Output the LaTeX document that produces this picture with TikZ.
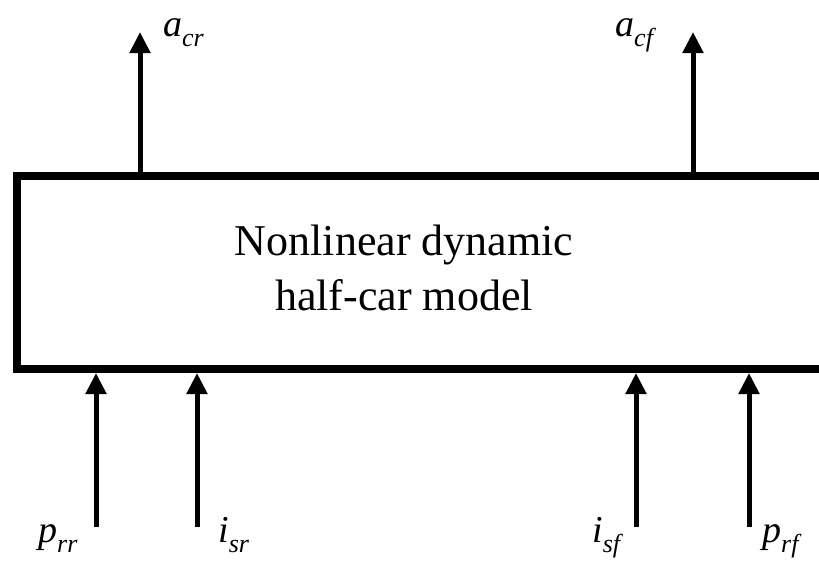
\documentclass[tikz,border=0pt]{standalone}
\usepackage{fontspec}
\setmainfont{Liberation Serif}
\usepackage{tikz}
\usetikzlibrary{arrows.meta,positioning,calc}
\definecolor{ink}{HTML}{000000}
\tikzset{
  >={Triangle[length=21pt,width=20pt]},
  block/.style={draw=ink,line width=8pt,fill=white,inner sep=0pt},
  title/.style={font=\fontsize{44}{55}\selectfont,anchor=base,inner sep=0pt},
  sigline/.style={->,line width=5pt,color=ink},
  siglabel/.style={anchor=base west,inner sep=0pt,font=\fontsize{38}{38}\selectfont},
}
\newcommand{\sig}[2]{\textit{#1\raisebox{-10pt}{\fontsize{26}{26}\selectfont #2}}}

\begin{document}
\begin{tikzpicture}[x=1pt,y=-1pt]
  \clip (0,0) rectangle (819,562);
  % model block, running past the right edge
  \node[block,minimum width=813pt,minimum height=193pt] (model) at (423.5,272.5) {};
  \node[title] (line1) at (404,255) {Nonlinear dynamic};
  \node[title] (line2) at (404,310) {half-car model};
  % outputs
  \coordinate (acr) at (140,32);
  \coordinate (acf) at (693,32);
  \draw[sigline] (model.north -| acr) -- (acr);
  \draw[sigline] (model.north -| acf) -- (acf);
  \node[siglabel] (lacr) at (163,36) {\sig{a}{cr}};
  \node[siglabel] (lacf) at (615,36) {\sig{a}{cf}};
  % inputs
  \coordinate (prr) at (96,527);
  \coordinate (isr) at (197,527);
  \coordinate (isf) at (636,527);
  \coordinate (prf) at (749,527);
  \foreach \c in {prr,isr,isf,prf}
    \draw[sigline] (\c) -- (\c |- model.south);
  \node[siglabel] (lprr) at (38,542) {\sig{p}{rr}};
  \node[siglabel] (lisr) at (218,542) {\sig{i}{sr}};
  \node[siglabel] (lisf) at (592,542) {\sig{i}{sf}};
  \node[siglabel] (lprf) at (762,542) {\sig{p}{rf}};
\end{tikzpicture}
\end{document}
